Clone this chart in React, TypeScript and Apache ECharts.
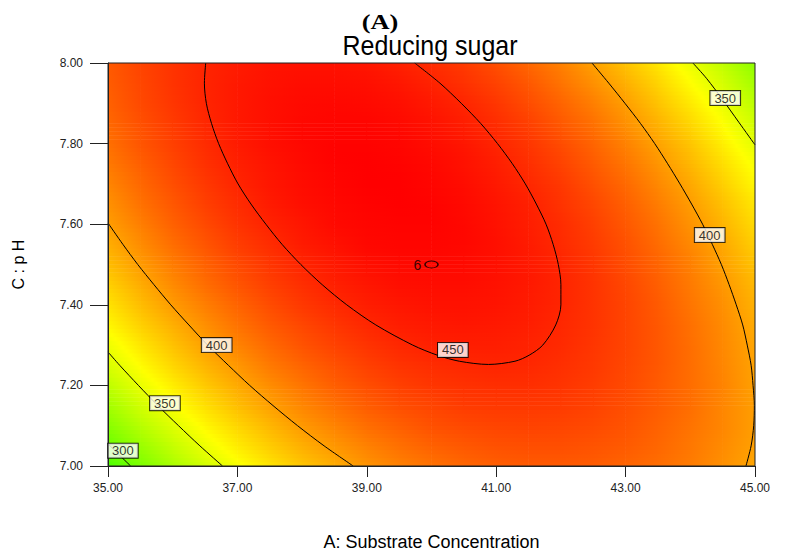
import React, { useEffect, useRef } from "react";
import * as echarts from "echarts";

// Factor levels of the estimated response grid
const A_GRID = [35, 35.5, 36, 36.5, 37, 37.5, 38, 38.5, 39, 39.5, 40, 40.5, 41, 41.5, 42, 42.5, 43, 43.5, 44, 44.5, 45];
const C_GRID = [7.0, 7.05, 7.1, 7.15, 7.2, 7.25, 7.3, 7.35, 7.4, 7.45, 7.5, 7.55, 7.6, 7.65, 7.7, 7.75, 7.8, 7.85, 7.9, 7.95, 8.0];

// Reducing sugar, one array per pH level (values along A_GRID)
const RS_C700 = [286, 306, 325, 342, 357, 371, 384, 394, 404, 412, 418, 423, 426, 428, 428, 427, 424, 420, 414, 406, 397];
const RS_C705 = [299, 318, 336, 353, 368, 381, 393, 403, 412, 419, 425, 429, 432, 433, 433, 431, 428, 423, 416, 408, 399];
const RS_C710 = [311, 330, 347, 363, 377, 390, 402, 411, 420, 426, 432, 435, 437, 438, 437, 435, 431, 425, 418, 410, 400];
const RS_C715 = [322, 341, 358, 373, 387, 399, 410, 419, 427, 433, 437, 441, 442, 442, 441, 438, 433, 427, 420, 410, 400];
const RS_C720 = [333, 351, 367, 382, 395, 407, 417, 426, 433, 439, 443, 445, 446, 446, 444, 440, 435, 428, 420, 411, 399];
const RS_C725 = [344, 361, 377, 391, 403, 415, 424, 432, 439, 444, 447, 449, 450, 449, 446, 442, 436, 429, 420, 410, 398];
const RS_C730 = [353, 370, 385, 399, 411, 422, 431, 438, 444, 449, 452, 453, 453, 451, 448, 443, 437, 429, 420, 409, 397];
const RS_C735 = [363, 379, 393, 406, 418, 428, 436, 443, 449, 453, 455, 456, 455, 453, 449, 444, 437, 429, 419, 408, 395];
const RS_C740 = [371, 387, 401, 413, 424, 434, 442, 448, 453, 456, 458, 458, 457, 454, 450, 444, 437, 428, 417, 406, 392];
const RS_C745 = [379, 394, 408, 420, 430, 439, 446, 452, 456, 459, 460, 460, 458, 455, 450, 444, 436, 426, 415, 403, 389];
const RS_C750 = [387, 401, 414, 425, 435, 443, 450, 455, 459, 461, 462, 461, 459, 455, 450, 443, 434, 424, 413, 399, 385];
const RS_C755 = [393, 407, 420, 430, 440, 447, 454, 458, 462, 463, 463, 462, 459, 454, 448, 441, 432, 421, 409, 396, 380];
const RS_C760 = [400, 413, 425, 435, 444, 451, 456, 461, 463, 464, 464, 462, 458, 453, 447, 439, 429, 418, 405, 391, 375];
const RS_C765 = [405, 418, 429, 439, 447, 454, 459, 462, 464, 465, 464, 461, 457, 452, 444, 436, 426, 414, 401, 386, 370];
const RS_C770 = [410, 422, 433, 442, 450, 456, 460, 463, 465, 465, 463, 460, 455, 449, 442, 432, 422, 409, 396, 380, 363];
const RS_C775 = [415, 426, 436, 445, 452, 457, 461, 464, 465, 464, 462, 458, 453, 446, 438, 428, 417, 404, 390, 374, 357];
const RS_C780 = [419, 430, 439, 447, 454, 459, 462, 464, 464, 463, 460, 456, 450, 443, 434, 424, 412, 398, 384, 367, 349];
const RS_C785 = [422, 432, 441, 449, 455, 459, 462, 463, 463, 461, 458, 453, 447, 439, 429, 419, 406, 392, 377, 360, 341];
const RS_C790 = [425, 435, 443, 450, 455, 459, 461, 462, 461, 459, 455, 450, 443, 434, 424, 413, 400, 385, 369, 352, 332];
const RS_C795 = [427, 436, 444, 450, 455, 458, 460, 460, 459, 456, 451, 445, 438, 429, 418, 406, 393, 378, 361, 343, 323];
const RS_C800 = [428, 437, 444, 450, 454, 457, 458, 458, 456, 452, 447, 441, 433, 423, 412, 399, 385, 370, 352, 334, 313];

const SURFACE_ROWS = [
  RS_C700, RS_C705, RS_C710, RS_C715, RS_C720, RS_C725, RS_C730, RS_C735, RS_C740, RS_C745, RS_C750,
  RS_C755, RS_C760, RS_C765, RS_C770, RS_C775, RS_C780, RS_C785, RS_C790, RS_C795, RS_C800,
];

// Contour lines: [A, C]
const CONTOUR_450 = [
  [36.51, 8.0], [36.49, 7.95], [36.52, 7.9], [36.6, 7.85], [36.71, 7.8], [36.85, 7.75], [37.01, 7.7],
  [37.21, 7.65], [37.44, 7.6], [37.69, 7.55], [37.98, 7.5], [38.31, 7.45], [38.69, 7.4], [39.14, 7.35],
  [39.71, 7.3], [40.09, 7.275], [40.43, 7.26], [40.88, 7.252], [41.29, 7.26], [41.51, 7.275], [41.72, 7.3],
  [41.92, 7.35], [42.0, 7.4], [42.0, 7.45], [41.96, 7.5], [41.88, 7.55], [41.77, 7.6], [41.62, 7.65],
  [41.45, 7.7], [41.25, 7.75], [41.02, 7.8], [40.76, 7.85], [40.46, 7.9], [40.13, 7.95], [39.74, 8.0],
];
const CONTOUR_400_LEFT = [
  [35.0, 7.603], [35.23, 7.55], [35.46, 7.5], [35.71, 7.45], [35.97, 7.4], [36.25, 7.35], [36.54, 7.3],
  [36.86, 7.25], [37.19, 7.2], [37.55, 7.15], [37.93, 7.1], [38.34, 7.05], [38.79, 7.0],
];
const CONTOUR_400_RIGHT = [
  [42.48, 8.0], [42.74, 7.95], [42.99, 7.9], [43.23, 7.85], [43.45, 7.8], [43.65, 7.75], [43.84, 7.7],
  [44.02, 7.65], [44.19, 7.6], [44.34, 7.55], [44.48, 7.5], [44.6, 7.45], [44.71, 7.4], [44.81, 7.35],
  [44.88, 7.3], [44.94, 7.25], [44.97, 7.2], [44.99, 7.15], [44.98, 7.1], [44.94, 7.05], [44.86, 7.0],
];
const CONTOUR_350_LEFT = [[35.0, 7.283], [35.18, 7.25], [35.47, 7.2], [35.77, 7.15], [36.09, 7.1], [36.42, 7.05], [36.77, 7.0]];
const CONTOUR_350_RIGHT = [[44.04, 8.0], [44.25, 7.962], [44.5, 7.909], [44.75, 7.853], [45.0, 7.797]];
const CONTOUR_300 = [[35.0, 7.055], [35.17, 7.028], [35.35, 7.0]];

// Contour labels: [A, C, level]
const CONTOUR_LABELS = [
  [40.33, 7.288, 450], [36.68, 7.3, 400], [35.88, 7.156, 350], [35.23, 7.038, 300], [44.3, 7.573, 400], [44.54, 7.913, 350],
];
// Design centre point: [A, C, replicates]
const DESIGN_POINTS = [[40, 7.5, 6]];

const X_TICKS = { min: 35, max: 45, step: 2 };
const Y_TICKS = { min: 7.0, max: 8.0, step: 0.2 };

const COLOR_STOPS: [number, number[]][] = [
  [255, [0, 255, 0]],
  [360, [255, 255, 0]],
  [465, [255, 0, 0]],
];

function colorOf(v: number): string {
  const s = COLOR_STOPS;
  if (v <= s[0][0]) return `rgb(${s[0][1].join(",")})`;
  for (let k = 0; k < s.length - 1; k++) {
    const [v0, c0] = s[k];
    const [v1, c1] = s[k + 1];
    if (v <= v1) {
      const t = (v - v0) / (v1 - v0);
      const c = c0.map((x, i) => Math.round(x + (c1[i] - x) * t));
      return `rgb(${c.join(",")})`;
    }
  }
  return `rgb(${s[s.length - 1][1].join(",")})`;
}

function gradientFor(zl: number, zr: number) {
  const stops: { offset: number; color: string }[] = [{ offset: 0, color: colorOf(zl) }];
  const mids = COLOR_STOPS.slice(1, -1).map((s) => s[0]);
  const inner: { offset: number; color: string }[] = [];
  for (const m of mids) {
    if ((zl - m) * (zr - m) < 0) inner.push({ offset: (m - zl) / (zr - zl), color: colorOf(m) });
  }
  inner.sort((a, b) => a.offset - b.offset);
  stops.push(...inner, { offset: 1, color: colorOf(zr) });
  return new echarts.graphic.LinearGradient(0, 0, 1, 0, stops);
}

function buildCells() {
  const cells: number[][] = [];
  for (let j = 0; j < C_GRID.length - 1; j++) {
    for (let i = 0; i < A_GRID.length - 1; i++) {
      cells.push([
        A_GRID[i], C_GRID[j], A_GRID[i + 1], C_GRID[j + 1],
        SURFACE_ROWS[j][i], SURFACE_ROWS[j][i + 1], SURFACE_ROWS[j + 1][i], SURFACE_ROWS[j + 1][i + 1],
      ]);
    }
  }
  return cells;
}

const FONT = "'Liberation Sans', Arial, sans-serif";

function contourSeries(name: string, data: number[][]) {
  return {
    name,
    type: "line",
    data,
    smooth: 0.3,
    showSymbol: false,
    symbol: "none",
    silent: true,
    clip: true,
    lineStyle: { color: "#000", width: 1 },
    z: 5,
  };
}

export default function App() {
  const ref = useRef<HTMLDivElement>(null);

  useEffect(() => {
    if (!ref.current) return;
    const chart = echarts.init(ref.current, undefined, { renderer: "svg" });
    const N_STRIPS = 5;

    chart.setOption({
      animation: false,
      textStyle: { fontFamily: FONT },
      grid: { left: 108, top: 63, width: 647, height: 403, containLabel: false, show: false },
      graphic: [
        {
          type: "text",
          x: 380,
          y: 21,
          scaleX: 1.2,
          style: { text: "(A)", fontSize: 22, fontWeight: "bold", fontFamily: "'Liberation Serif', 'Times New Roman', serif", fill: "#000", align: "center", verticalAlign: "middle" },
          z: 20,
        },
        {
          type: "text",
          x: 430,
          y: 46,
          scaleY: 1.1,
          style: { text: "Reducing sugar", fontSize: 25, fontFamily: FONT, fill: "#000", align: "center", verticalAlign: "middle" },
          z: 20,
        },
        {
          type: "rect",
          shape: { x: 108, y: 63, width: 647, height: 403 },
          style: { fill: "none", stroke: "#222", lineWidth: 1 },
          silent: true,
          z: 100,
        },
      ],
      xAxis: {
        type: "value",
        min: X_TICKS.min,
        max: X_TICKS.max,
        interval: X_TICKS.step,
        position: "bottom",
        axisLine: { show: true, onZero: false, lineStyle: { color: "#222", width: 1 } },
        axisTick: { show: true, inside: false, length: 11, lineStyle: { color: "#222" } },
        axisLabel: { formatter: (v: number) => v.toFixed(2), fontSize: 12, color: "#222", margin: 16 },
        splitLine: { show: false },
        name: "A: Substrate Concentration",
        nameLocation: "middle",
        nameGap: 67,
        nameTextStyle: { fontSize: 18, color: "#000" },
        z: 10,
      },
      yAxis: {
        type: "value",
        min: Y_TICKS.min,
        max: Y_TICKS.max,
        interval: Y_TICKS.step,
        axisLine: { show: true, onZero: false, lineStyle: { color: "#222", width: 1 } },
        axisTick: { show: true, inside: false, length: 18, lineStyle: { color: "#222" } },
        axisLabel: { formatter: (v: number) => v.toFixed(2), fontSize: 12, color: "#222", margin: 25 },
        splitLine: { show: false },
        name: "C : p H",
        nameLocation: "middle",
        nameGap: 82,
        nameRotate: 90,
        nameTextStyle: { fontSize: 16, color: "#000" },
        z: 10,
      },
      series: [
        {
          type: "custom",
          name: "surface",
          data: buildCells(),
          encode: { x: [0, 2], y: [1, 3] },
          clip: true,
          silent: true,
          z: 1,
          renderItem: (_params: any, api: any) => {
            const a0 = api.value(0), c0 = api.value(1), a1 = api.value(2), c1 = api.value(3);
            const z00 = api.value(4), z10 = api.value(5), z01 = api.value(6), z11 = api.value(7);
            const p0 = api.coord([a0, c0]);
            const p1 = api.coord([a1, c1]);
            const x = p0[0];
            const w = p1[0] - p0[0];
            const yb = p0[1];
            const yt = p1[1];
            const h = (yb - yt) / N_STRIPS;
            const children: any[] = [];
            for (let k = 0; k < N_STRIPS; k++) {
              const t = (k + 0.5) / N_STRIPS;
              const zl = z00 + (z01 - z00) * t;
              const zr = z10 + (z11 - z10) * t;
              const yTop = yb - h * (k + 1);
              children.push({
                type: "rect",
                shape: { x: x - 0.3, y: yTop - 0.3, width: w + 0.6, height: h + 0.6 },
                style: { fill: gradientFor(zl, zr) },
                silent: true,
              });
            }
            return { type: "group", children };
          },
        },
        contourSeries("450", CONTOUR_450),
        contourSeries("400 left", CONTOUR_400_LEFT),
        contourSeries("400 right", CONTOUR_400_RIGHT),
        contourSeries("350 left", CONTOUR_350_LEFT),
        contourSeries("350 right", CONTOUR_350_RIGHT),
        contourSeries("300", CONTOUR_300),
        {
          type: "scatter",
          name: "labels",
          data: CONTOUR_LABELS,
          symbolSize: 1,
          silent: true,
          itemStyle: { color: "rgba(0,0,0,0)" },
          label: {
            show: true,
            position: "inside",
            formatter: (p: any) => String(p.value[2]),
            backgroundColor: "#fff",
            borderColor: "#000",
            borderWidth: 1,
            padding: [1, 4, 0, 4],
            fontSize: 13,
            color: "#000",
            fontFamily: FONT,
          },
          z: 20,
        },
        {
          type: "scatter",
          name: "design points",
          data: DESIGN_POINTS,
          symbol: "path://M0 5A10 5 0 1 0 20 5A10 5 0 1 0 0 5Z",
          symbolSize: [13, 7],
          silent: true,
          itemStyle: { color: "rgba(0,0,0,0)", borderColor: "#000", borderWidth: 1.2 },
          label: {
            show: true,
            position: "left",
            distance: 3,
            formatter: (p: any) => String(p.value[2]),
            fontSize: 14,
            color: "#000",
            fontFamily: FONT,
          },
          z: 20,
        },
      ],
    });

    return () => chart.dispose();
  }, []);

  return (
    <div
      ref={ref}
      style={{ position: "absolute", left: 0, top: 0, width: 785, height: 558, background: "#fff" }}
    />
  );
}
